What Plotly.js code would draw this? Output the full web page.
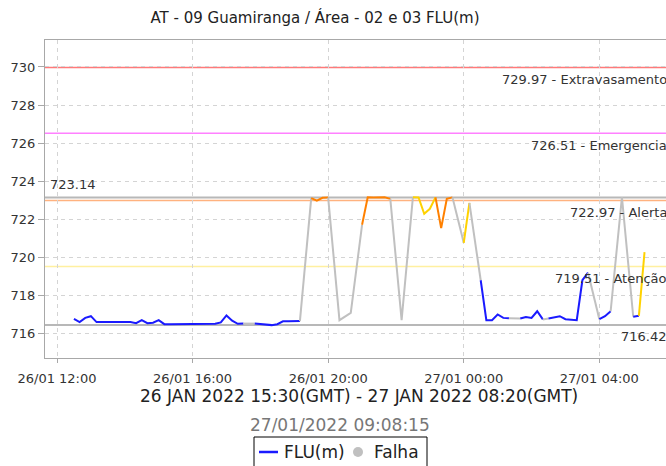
<!DOCTYPE html>
<html>
<head>
<meta charset="utf-8">
<script src="https://cdn.plot.ly/plotly-3.0.1.min.js"></script>
<style>html,body{margin:0;padding:0;background:#fff;}#chart{width:666px;height:466px;}</style>
</head>
<body>
<div id="chart"></div>
<script>
// ---- data ----
const times = [
 '2022-01-26 12:30','2022-01-26 12:40','2022-01-26 12:50','2022-01-26 13:00','2022-01-26 13:10',
 '2022-01-26 13:20','2022-01-26 13:30','2022-01-26 13:40','2022-01-26 13:50','2022-01-26 14:00',
 '2022-01-26 14:10','2022-01-26 14:20','2022-01-26 14:30','2022-01-26 14:40','2022-01-26 14:50',
 '2022-01-26 15:00','2022-01-26 15:10','2022-01-26 15:20','2022-01-26 15:30','2022-01-26 15:40',
 '2022-01-26 15:50','2022-01-26 16:00','2022-01-26 16:10','2022-01-26 16:20','2022-01-26 16:30',
 '2022-01-26 16:40','2022-01-26 16:50','2022-01-26 17:00','2022-01-26 17:10','2022-01-26 17:20',
 '2022-01-26 17:30','2022-01-26 17:50','2022-01-26 18:00','2022-01-26 18:10','2022-01-26 18:20',
 '2022-01-26 18:30','2022-01-26 18:40','2022-01-26 18:50','2022-01-26 19:00','2022-01-26 19:10',
 '2022-01-26 19:30','2022-01-26 19:40','2022-01-26 19:50','2022-01-26 20:00','2022-01-26 20:20',
 '2022-01-26 20:40','2022-01-26 21:00','2022-01-26 21:10','2022-01-26 21:20','2022-01-26 21:30',
 '2022-01-26 21:40','2022-01-26 21:50','2022-01-26 22:10','2022-01-26 22:30','2022-01-26 22:40',
 '2022-01-26 22:50','2022-01-26 23:00','2022-01-26 23:10','2022-01-26 23:20','2022-01-26 23:30',
 '2022-01-26 23:40','2022-01-27 00:00','2022-01-27 00:10','2022-01-27 00:30','2022-01-27 00:40',
 '2022-01-27 00:50','2022-01-27 01:00','2022-01-27 01:10','2022-01-27 01:20','2022-01-27 01:40',
 '2022-01-27 01:50','2022-01-27 02:00','2022-01-27 02:10','2022-01-27 02:20','2022-01-27 02:30',
 '2022-01-27 02:50','2022-01-27 03:00','2022-01-27 03:10','2022-01-27 03:20','2022-01-27 03:30',
 '2022-01-27 03:40','2022-01-27 04:00','2022-01-27 04:10','2022-01-27 04:20','2022-01-27 04:40',
 '2022-01-27 05:00','2022-01-27 05:10','2022-01-27 05:20'
];
const values = [
 716.75,716.58,716.80,716.89,716.58,
 716.58,716.58,716.58,716.58,716.58,
 716.58,716.52,716.68,716.52,716.55,
 716.68,716.47,716.47,716.47,716.47,
 716.47,716.47,716.47,716.47,716.47,
 716.49,716.56,716.93,716.65,716.49,
 716.50,716.50,716.47,716.45,716.42,
 716.47,716.62,716.62,716.62,716.63,
 723.10,722.97,723.12,723.13,716.68,
 717.06,721.70,723.15,723.13,723.13,
 723.15,723.06,716.68,723.15,723.14,
 722.28,722.54,723.14,721.52,723.06,
 723.14,720.75,722.85,718.78,716.68,
 716.68,716.98,716.80,716.78,716.77,
 716.85,716.80,717.15,716.72,716.77,
 716.89,716.73,716.70,716.68,718.78,
 719.18,716.73,716.89,717.15,723.15,
 716.86,716.91,720.26
];
// status of the segment ending at each point: N normal, A atenção, L alerta, F falha
const status = [
 'N','N','N','N','N', 'N','N','N','N','N', 'N','N','N','N','N', 'N','N','N','N','N',
 'N','N','N','N','N', 'N','N','N','N','N', 'N','F','N','N','N', 'N','N','N','N','N',
 'F','L','L','L','F', 'F','F','L','L','L', 'L','L','F','F','A', 'A','A','A','L','L',
 'L','F','A','F','N', 'N','N','N','N','F', 'N','N','N','N','F', 'N','N','N','N','N',
 'N','F','N','N','F', 'F','N','A'
];
const thresholdValues = [729.97, 726.51, 722.97, 719.51];
const thresholdNames = ['Extravasamento', 'Emergencia', 'Alerta', 'Atenção'];
const maxValue = 723.14;
const minValue = 716.42;
const seriesName = 'FLU(m)';
const failName = 'Falha';
const chartTitle = 'AT - 09 Guamiranga / Área - 02 e 03 FLU(m)';
const periodText = '26 JAN 2022 15:30(GMT) - 27 JAN 2022 08:20(GMT)';
const stampText = '27/01/2022 09:08:15';

// ---- styles / layout helpers ----
const FONT = 'DejaVu Sans';
const W = 666, H = 466, ML = 45, MT = 40, MB = 108;
const PW = W - ML, PH = H - MT - MB;
const px2x = p => (p - ML) / PW;          // pixel -> paper x
const py2y = p => (H - MB - p) / PH;      // pixel -> paper y
const segColors = {N: '#1a1aff', A: '#ffd200', L: '#ff8000', F: '#c0c0c0'};
const thresholdColors = ['#ff7a7a', '#ff80ff', '#ffb27f', '#fff0a0'];

const traces = [];
let i = 1;
while (i < times.length) {
  const s = status[i];
  let j = i;
  while (j + 1 < times.length && status[j + 1] === s) j++;
  traces.push({
    type: 'scatter', mode: 'lines',
    x: times.slice(i - 1, j + 1), y: values.slice(i - 1, j + 1),
    line: {color: segColors[s], width: 2},
    name: s === 'F' ? failName : seriesName, showlegend: false,
    hoverinfo: 'skip'
  });
  i = j + 1;
}

const shapes = [];
const annotations = [];
thresholdValues.forEach((v, k) => {
  shapes.push({type: 'line', xref: 'paper', x0: 0, x1: 1, yref: 'y', y0: v, y1: v,
    line: {color: thresholdColors[k], width: 1.5}, layer: 'below'});
  annotations.push({xref: 'paper', x: 1, xanchor: 'right', xshift: 3, yref: 'y', y: v,
    yanchor: 'middle', yshift: -12, showarrow: false,
    text: v.toFixed(2) + ' - ' + thresholdNames[k], font: {family: FONT, size: 13, color: '#333'}});
});
[maxValue, minValue].forEach(v => {
  shapes.push({type: 'line', xref: 'paper', x0: 0, x1: 1, yref: 'y', y0: v, y1: v,
    line: {color: '#b8b8b8', width: 2}, layer: 'below'});
});
annotations.push({xref: 'paper', x: 0, xanchor: 'left', xshift: 3, yref: 'y', y: maxValue,
  yanchor: 'middle', yshift: 13, showarrow: false, text: maxValue.toFixed(2),
  font: {family: FONT, size: 13, color: '#333'}});
annotations.push({xref: 'paper', x: 1, xanchor: 'right', xshift: 3, yref: 'y', y: minValue,
  yanchor: 'middle', yshift: -11, showarrow: false, text: minValue.toFixed(2),
  font: {family: FONT, size: 13, color: '#333'}});
annotations.push({xref: 'paper', x: px2x(359), xanchor: 'center', yref: 'paper', y: py2y(396),
  yanchor: 'middle', showarrow: false, text: periodText, font: {family: FONT, size: 17, color: '#222'}});
annotations.push({xref: 'paper', x: px2x(340), xanchor: 'center', yref: 'paper', y: py2y(425),
  yanchor: 'middle', showarrow: false, text: stampText, font: {family: FONT, size: 17, color: '#777'}});

// legend box (drawn as shapes + text)
shapes.push({type: 'rect', xref: 'paper', yref: 'paper', x0: px2x(254), x1: px2x(427),
  y0: py2y(437), y1: py2y(470), line: {color: '#000', width: 1}, fillcolor: 'rgba(0,0,0,0)'});
shapes.push({type: 'line', xref: 'paper', yref: 'paper', x0: px2x(259), x1: px2x(278),
  y0: py2y(452), y1: py2y(452), line: {color: segColors.N, width: 2.5}});
shapes.push({type: 'circle', xref: 'paper', yref: 'paper', xsizemode: 'pixel', ysizemode: 'pixel',
  xanchor: px2x(358), yanchor: py2y(452), x0: -5, x1: 5, y0: -5, y1: 5,
  line: {width: 0}, fillcolor: segColors.F});
annotations.push({xref: 'paper', x: px2x(282), xanchor: 'left', yref: 'paper', y: py2y(452),
  yanchor: 'middle', showarrow: false, text: seriesName, font: {family: FONT, size: 17, color: '#222'}});
annotations.push({xref: 'paper', x: px2x(372), xanchor: 'left', yref: 'paper', y: py2y(452),
  yanchor: 'middle', showarrow: false, text: failName, font: {family: FONT, size: 17, color: '#222'}});

const layout = {
  width: W, height: H,
  margin: {l: ML, r: 0, t: MT, b: MB, pad: 0, autoexpand: false},
  paper_bgcolor: '#fff', plot_bgcolor: '#fff',
  font: {family: FONT, color: '#333'},
  title: {text: chartTitle, font: {family: FONT, size: 15, color: '#222'},
    xref: 'container', x: 0.473, xanchor: 'center', yref: 'container', y: 1 - 18 / H, yanchor: 'middle'},
  xaxis: {
    type: 'date', range: ['2022-01-26 11:38:45', '2022-01-27 05:58:00'],
    tick0: '2022-01-26 00:00', dtick: 4 * 3600 * 1000, tickformat: '%d/%m %H:%M',
    showgrid: true, gridcolor: '#d4d4d4', griddash: '4px,4px', gridwidth: 1,
    showline: true, linecolor: '#a8a8a8', linewidth: 1, mirror: true,
    ticks: 'outside', ticklen: 4, tickcolor: '#a8a8a8', ticklabelstandoff: 4,
    tickfont: {family: FONT, size: 13, color: '#333'}, zeroline: false, fixedrange: true
  },
  yaxis: {
    range: [714.69, 731.42], tick0: 0, dtick: 2,
    showgrid: true, gridcolor: '#d4d4d4', griddash: '4px,4px', gridwidth: 1,
    showline: true, linecolor: '#a8a8a8', linewidth: 1,
    ticks: 'outside', ticklen: 6, tickcolor: '#a8a8a8',
    tickfont: {family: FONT, size: 13, color: '#333'}, zeroline: false, fixedrange: true
  },
  showlegend: false,
  shapes: shapes,
  annotations: annotations
};

Plotly.newPlot('chart', traces, layout, {displayModeBar: false, staticPlot: true});
</script>
</body>
</html>
